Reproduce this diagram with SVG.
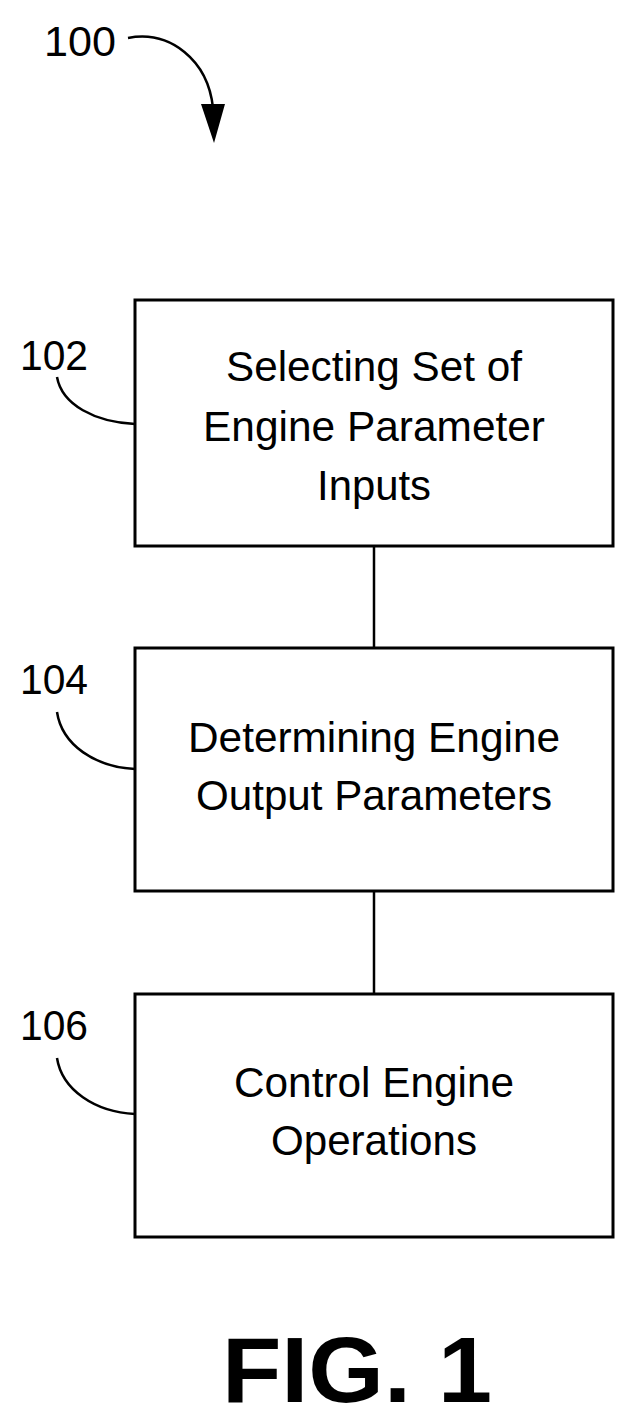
<svg xmlns="http://www.w3.org/2000/svg" width="637" height="1425" viewBox="0 0 637 1425">
<style>
.box{fill:#fff;stroke:#000;stroke-width:3}
.ln{fill:none;stroke:#000;stroke-width:2.5}
.t{font-family:"Liberation Sans",Arial,sans-serif;font-size:42px;text-anchor:middle;fill:#000}
.lb{font-family:"Liberation Sans",Arial,sans-serif;font-size:42px;fill:#000}
</style>
<rect width="637" height="1425" fill="#fff"/>
<g id="ref100">
<text class="lb" x="44" y="56" textLength="72" lengthAdjust="spacingAndGlyphs">100</text>
<path class="ln" d="M128,38 C170,30 208,60 213,108"/>
<polygon points="201,104 225,104 214,143" fill="#000"/>
</g>
<g id="connectors">
<line class="ln" x1="374" y1="546" x2="374" y2="648"/>
<line class="ln" x1="374" y1="891" x2="374" y2="994"/>
</g>
<g id="n102">
<rect class="box" x="135" y="300" width="478" height="246"/>
<text class="t" x="374" y="381" textLength="296" lengthAdjust="spacingAndGlyphs">Selecting Set of</text>
<text class="t" x="374" y="441" textLength="342" lengthAdjust="spacingAndGlyphs">Engine Parameter</text>
<text class="t" x="374" y="500" textLength="114" lengthAdjust="spacingAndGlyphs">Inputs</text>
<text class="lb" x="20" y="370" textLength="68" lengthAdjust="spacingAndGlyphs">102</text>
<path class="ln" d="M57,377 C62,405 95,422 135,424"/>
</g>
<g id="n104">
<rect class="box" x="135" y="648" width="478" height="243"/>
<text class="t" x="374" y="752" textLength="372" lengthAdjust="spacingAndGlyphs">Determining Engine</text>
<text class="t" x="374" y="810" textLength="356" lengthAdjust="spacingAndGlyphs">Output Parameters</text>
<text class="lb" x="20" y="694" textLength="68" lengthAdjust="spacingAndGlyphs">104</text>
<path class="ln" d="M57,712 C62,745 95,767 135,769"/>
</g>
<g id="n106">
<rect class="box" x="135" y="994" width="478" height="243"/>
<text class="t" x="374" y="1097" textLength="280" lengthAdjust="spacingAndGlyphs">Control Engine</text>
<text class="t" x="374" y="1155" textLength="206" lengthAdjust="spacingAndGlyphs">Operations</text>
<text class="lb" x="20" y="1040" textLength="68" lengthAdjust="spacingAndGlyphs">106</text>
<path class="ln" d="M57,1058 C62,1090 95,1112 135,1114"/>
</g>
<text x="357" y="1402" font-family="Liberation Sans,Arial,sans-serif" font-size="92" font-weight="bold" text-anchor="middle" fill="#000" textLength="270" lengthAdjust="spacingAndGlyphs">FIG. 1</text>
</svg>
